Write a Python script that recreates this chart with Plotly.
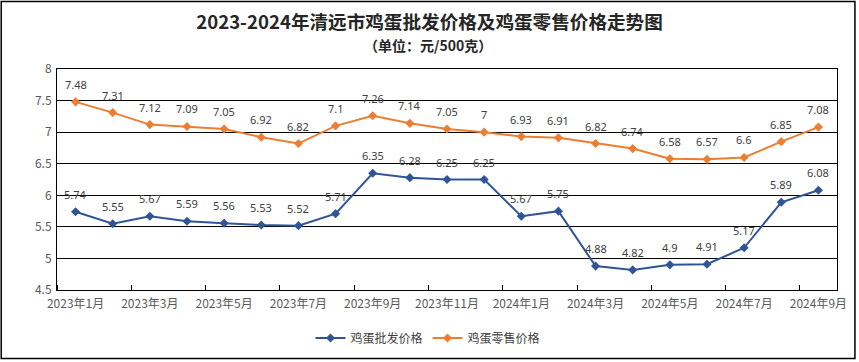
import plotly.graph_objects as go

months = ["2023年1月", "2023年2月", "2023年3月", "2023年4月", "2023年5月", "2023年6月", "2023年7月",
          "2023年8月", "2023年9月", "2023年10月", "2023年11月", "2023年12月", "2024年1月", "2024年2月",
          "2024年3月", "2024年4月", "2024年5月", "2024年6月", "2024年7月", "2024年8月", "2024年9月"]
wholesale = [5.74, 5.55, 5.67, 5.59, 5.56, 5.53, 5.52, 5.71, 6.35, 6.28, 6.25, 6.25, 5.67, 5.75,
             4.88, 4.82, 4.9, 4.91, 5.17, 5.89, 6.08]
retail = [7.48, 7.31, 7.12, 7.09, 7.05, 6.92, 6.82, 7.1, 7.26, 7.14, 7.05, 7, 6.93, 6.91,
          6.82, 6.74, 6.58, 6.57, 6.6, 6.85, 7.08]
y_ticks = [4.5, 5, 5.5, 6, 6.5, 7, 7.5, 8]
y_ticktext = ["4.5", "5", "5.5", "6", "6.5", "7", "7.5", "8"]

xs = list(range(len(months)))
label_idx = list(range(0, len(months), 2))

def fmt(v):
    return ("%g" % v)

W, H = 859, 362
L, R, T, B = 57, 19, 69, 70
pw, ph = W - L - R, H - T - B

fig = go.Figure()
for name, vals, color in [("鸡蛋批发价格", wholesale, "#2F5597"), ("鸡蛋零售价格", retail, "#ED7D31")]:
    fig.add_trace(go.Scatter(
        x=xs, y=vals, name=name, mode="lines+markers",
        line=dict(color=color, width=2),
        marker=dict(symbol="diamond", size=7, color=color),
    ))
    for xi, v in zip(xs, vals):
        fig.add_annotation(x=xi, y=v, text=fmt(v), showarrow=False, xref="x", yref="y",
                           yanchor="bottom", yshift=8,
                           font=dict(size=11, color="#404040", family="Noto Sans"))

fig.update_layout(
    width=W, height=H,
    margin=dict(l=L, r=R, t=T, b=B),
    paper_bgcolor="white", plot_bgcolor="white",
    font=dict(family="Noto Sans CJK SC", size=11, color="#595959"),
    title=dict(
        text="<b>2023-2024年清远市鸡蛋批发价格及鸡蛋零售价格走势图</b>",
        x=0.5, xanchor="center", yref="container", y=1 - 22 / H, yanchor="middle",
        font=dict(size=18.6, color="#262626", family="Noto Sans CJK SC"),
    ),
    showlegend=True,
    legend=dict(orientation="h", xref="container", x=428 / W, xanchor="center",
                yref="container", y=1 - 338 / H, yanchor="middle",
                font=dict(size=12, color="#404040"), itemwidth=30),
    xaxis=dict(
        range=[-0.5, len(months) - 0.5], tickmode="array",
        tickvals=label_idx, ticktext=[months[i] for i in label_idx],
        ticks="", showgrid=False, zeroline=False,
        showline=True, linecolor="black", linewidth=1, mirror=True,
        tickfont=dict(size=12, color="#595959"), ticklabelstandoff=3,
        minor=dict(tick0=-0.5, dtick=2, ticks="inside", ticklen=5, tickcolor="black", showgrid=False),
    ),
    yaxis=dict(
        range=[4.5, 8], tickmode="array", tickvals=y_ticks, ticktext=y_ticktext,
        showgrid=True, gridcolor="black", gridwidth=1, zeroline=False,
        showline=True, linecolor="black", linewidth=1, mirror=True,
        ticks="", tickfont=dict(size=12, color="#595959"), ticklabelstandoff=2,
    ),
)

fig.add_annotation(text="<b>（单位：元/500克）</b>", xref="paper", yref="paper",
                   x=0.5 - (L - R) / 2 / pw, y=1 + (T - 45) / ph, yanchor="middle",
                   showarrow=False, font=dict(size=14, color="#262626", family="Noto Sans CJK SC"))

fig.add_shape(type="rect", xref="paper", yref="paper",
              x0=(-L + 1) / pw, x1=1 + (R - 1) / pw,
              y0=(-B + 1) / ph, y1=1 + (T - 1) / ph,
              line=dict(color="black", width=1.5), fillcolor="rgba(0,0,0,0)", layer="above")

fig.write_html("out.html", config={"displayModeBar": False},
               post_script="document.body.style.margin='0';document.body.style.overflow='hidden';")
